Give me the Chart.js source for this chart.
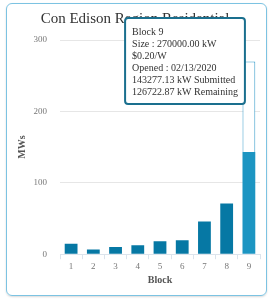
<!DOCTYPE html>
<html>
<head>
<meta charset="utf-8">
<script src="https://cdn.jsdelivr.net/npm/chart.js@4/dist/chart.umd.min.js"></script>
<style>
  html, body { margin: 0; padding: 0; background: #fff; }
  #card {
    position: absolute; left: 6px; top: 3px;
    width: 259px; height: 291px;
    border: 1px solid #7cc3e2; border-radius: 6px;
    box-shadow: 0 1px 2px rgba(0,0,0,0.15);
  }
  #card canvas { display: block; }
</style>
</head>
<body>
<div id="card"><canvas id="chart" width="259" height="291"></canvas></div>
<script>
// Block numbers and MW values
const blocks = ['1', '2', '3', '4', '5', '6', '7', '8', '9'];
const submittedMW = [14.5, 6.6, 10.2, 12.6, 18.2, 19.6, 45.9, 71.0, 143.28];
const remainingMW = [null, null, null, null, null, null, null, null, 126.72];

// Tooltip details for the highlighted block
const hoverIndex = 8;
const hoverSize = '270000.00 kW';
const hoverPrice = '$0.20/W';
const hoverOpened = '02/13/2020';
const hoverSubmitted = '143277.13 kW';
const hoverRemaining = '126722.87 kW';

const serif = '"Liberation Serif", "DejaVu Serif", serif';

// keep tooltip in the upper right of the plot
Chart.Tooltip.positioners.fixedBox = function () {
  const area = this.chart.chartArea;
  return { x: area.right - 75, y: area.top + 21, xAlign: 'center', yAlign: 'center' };
};

const ctx = document.getElementById('chart').getContext('2d');
const chart = new Chart(ctx, {
  type: 'bar',
  data: {
    labels: blocks,
    datasets: [{
      label: 'Submitted',
      data: submittedMW,
      backgroundColor: '#0678a4',
      hoverBackgroundColor: '#1c95c2',
      borderWidth: 0,
      stack: 's'
    }, {
      label: 'Remaining',
      data: remainingMW,
      backgroundColor: '#ffffff',
      borderColor: '#3a9ecb',
      hoverBackgroundColor: '#ffffff',
      hoverBorderColor: '#3a9ecb',
      borderWidth: 1,
      stack: 's'
    }]
  },
  options: {
    responsive: false,
    animation: false,
    events: [],
    layout: { padding: { left: 3, right: 6, top: 2, bottom: 9 } },
    datasets: { bar: { categoryPercentage: 0.8, barPercentage: 0.72 } },
    scales: {
      x: {
        stacked: true,
        grid: { offset: true, drawOnChartArea: false, tickLength: 5, color: '#dce4ec' },
        border: { display: true, color: '#dce4ec' },
        ticks: { color: '#777', font: { family: serif, size: 9 }, padding: 2 },
        title: { display: true, text: 'Block', color: '#555', font: { family: serif, size: 10, weight: 'bold' }, padding: { top: 0, bottom: 0 } }
      },
      y: {
        stacked: true,
        min: 0, max: 300,
        ticks: { stepSize: 100, color: '#777', font: { family: serif, size: 9 }, padding: 13 },
        grid: { color: '#e6e6e6', drawTicks: false },
        border: { display: false },
        title: { display: true, text: 'MWs', color: '#555', font: { family: serif, size: 10, weight: 'bold' }, padding: { top: 6, bottom: 0 } },
        afterFit: scale => { scale.width = 50; }
      }
    },
    plugins: {
      legend: { display: false },
      title: {
        display: true,
        text: 'Con Edison Region Residential',
        color: '#333',
        font: { family: serif, size: 15, weight: 'normal' },
        padding: { top: 4, bottom: 12 }
      },
      tooltip: {
        position: 'fixedBox',
        backgroundColor: '#ffffff',
        borderColor: '#1a6f8e',
        borderWidth: 2,
        cornerRadius: 3,
        caretSize: 0,
        displayColors: false,
        padding: { left: 7, right: 7, top: 8, bottom: 6 },
        titleColor: '#333',
        bodyColor: '#333',
        titleFont: { family: serif, size: 10, weight: 'normal', lineHeight: 1.2 },
        bodyFont: { family: serif, size: 10, lineHeight: 1.2 },
        titleMarginBottom: 0,
        bodySpacing: 0,
        callbacks: {
          title: items => 'Block ' + blocks[items[0].dataIndex],
          label: () => [
            'Size : ' + hoverSize,
            hoverPrice,
            'Opened : ' + hoverOpened,
            hoverSubmitted + ' Submitted',
            hoverRemaining + ' Remaining'
          ]
        }
      }
    }
  }
});

chart.setActiveElements([{ datasetIndex: 0, index: hoverIndex }, { datasetIndex: 1, index: hoverIndex }]);
chart.tooltip.setActiveElements([{ datasetIndex: 0, index: hoverIndex }], { x: 0, y: 0 });
chart.update();
</script>
</body>
</html>
